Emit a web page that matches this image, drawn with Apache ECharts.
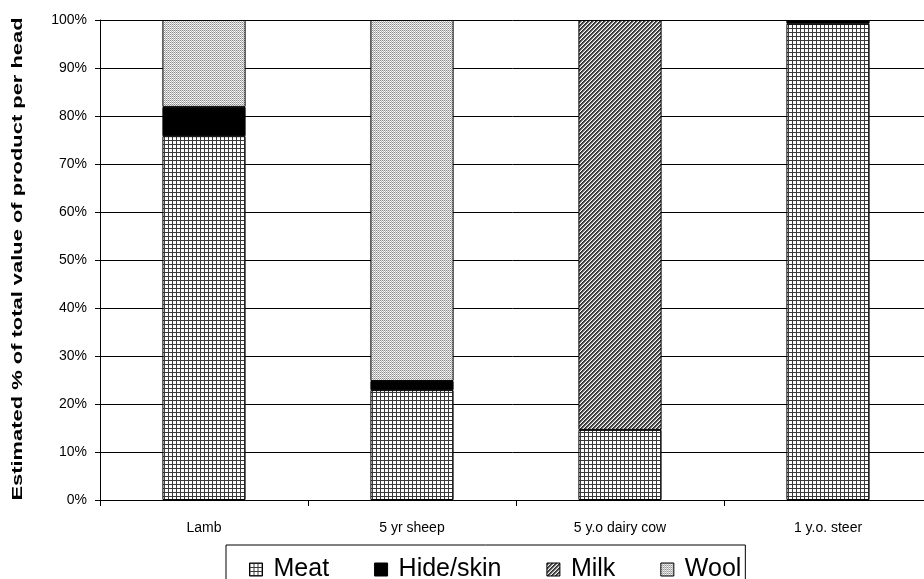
<!DOCTYPE html>
<html>
<head>
<meta charset="utf-8">
<script src="https://cdn.jsdelivr.net/npm/echarts@6/dist/echarts.min.js"></script>
<style>
  html, body { margin: 0; padding: 0; background: #fff; }
  #chart { width: 924px; height: 579px; }
</style>
</head>
<body>
<div id="chart"></div>
<script>
// Livestock product value shares (percent of total value per head)
const categories = ['Lamb', '5 yr sheep', '5 y.o dairy cow', '1 y.o. steer'];
const meat     = [75.8, 22.9, 14.6, 99.2];
const hideSkin = [6.1, 1.9, null, 0.8];
const milk     = [null, null, 85.4, null];
const wool     = [18.1, 75.2, null, null];
const yTicks   = [0, 10, 20, 30, 40, 50, 60, 70, 80, 90, 100];
const yTitle   = 'Estimated % of total value of product per head';

const FONT = '"Liberation Sans", Arial, sans-serif';

// Small repeating tiles used as fill patterns
function makeTile(size, painter) {
  const c = document.createElement('canvas');
  c.width = size; c.height = size;
  const ctx = c.getContext('2d');
  ctx.fillStyle = '#ffffff';
  ctx.fillRect(0, 0, size, size);
  painter(ctx, size);
  return { image: c, repeat: 'repeat' };
}

const gridFill = makeTile(4, (ctx, s) => {
  ctx.fillStyle = '#3a3a3a';
  ctx.fillRect(0, 0, s, 1);
  ctx.fillRect(0, 0, 1, s);
});

const diagFill = makeTile(4, (ctx, s) => {
  const shades = ['#2e2e2e', '#4a4a4a', '#9a9a9a', '#ffffff'];
  for (let y = 0; y < s; y++) {
    for (let x = 0; x < s; x++) {
      ctx.fillStyle = shades[(x + y) % 4];
      ctx.fillRect(x, y, 1, 1);
    }
  }
});

const dotFill = makeTile(2, (ctx) => {
  ctx.fillStyle = '#8c8c8c';
  ctx.fillRect(0, 0, 1, 1);
  ctx.fillStyle = '#b4b4b4';
  ctx.fillRect(1, 1, 1, 1);
  ctx.fillStyle = '#e0e0e0';
  ctx.fillRect(1, 0, 1, 1);
});

function barSeries(name, data, fill) {
  return {
    name: name,
    type: 'bar',
    stack: 'total',
    barWidth: '40%',
    data: data,
    itemStyle: { color: fill, borderColor: '#000', borderWidth: 1 }
  };
}

const chart = echarts.init(document.getElementById('chart'), null, { renderer: 'canvas' });
chart.setOption({
  animation: false,
  backgroundColor: '#ffffff',
  grid: { left: 100, top: 20, width: 832, height: 480, outerBoundsMode: 'none', containLabel: false },
  xAxis: {
    type: 'category',
    data: categories,
    axisLine: { lineStyle: { color: '#000', width: 1 } },
    axisTick: { show: true, length: 6, alignWithLabel: false, lineStyle: { color: '#000' } },
    axisLabel: { color: '#000', fontFamily: FONT, fontSize: 14, margin: 21 },
    splitLine: { show: false }
  },
  yAxis: {
    type: 'value',
    min: yTicks[0],
    max: yTicks[yTicks.length - 1],
    interval: yTicks[1] - yTicks[0],
    axisLine: { show: true, lineStyle: { color: '#000', width: 1 } },
    axisTick: { show: true, length: 5, lineStyle: { color: '#000' } },
    axisLabel: { color: '#000', fontFamily: FONT, fontSize: 14, margin: 13, formatter: '{value}%' },
    splitLine: { show: true, lineStyle: { color: '#000', width: 1 } }
  },
  // Axis title, stretched along its length to run the full plot height
  graphic: [{
    type: 'text',
    x: 18,
    y: 259,
    rotation: Math.PI / 2,
    scaleX: 1.46,
    style: {
      text: yTitle,
      fill: '#000',
      font: 'bold 15px ' + FONT,
      align: 'center',
      verticalAlign: 'middle'
    }
  }],
  legend: {
    left: 226,
    top: 545,
    orient: 'horizontal',
    data: ['Meat', 'Hide/skin', 'Milk', 'Wool'],
    icon: 'rect',
    itemWidth: 13,
    itemHeight: 13,
    itemGap: 45,
    padding: [12, 4, 14, 23],
    borderColor: '#000',
    borderWidth: 1,
    itemStyle: { borderColor: '#000', borderWidth: 1 },
    textStyle: { color: '#000', fontFamily: FONT, fontSize: 25, padding: [0, 0, 0, 6] }
  },
  series: [
    barSeries('Meat', meat, gridFill),
    barSeries('Hide/skin', hideSkin, '#000000'),
    barSeries('Milk', milk, diagFill),
    barSeries('Wool', wool, dotFill)
  ]
});
</script>
</body>
</html>
